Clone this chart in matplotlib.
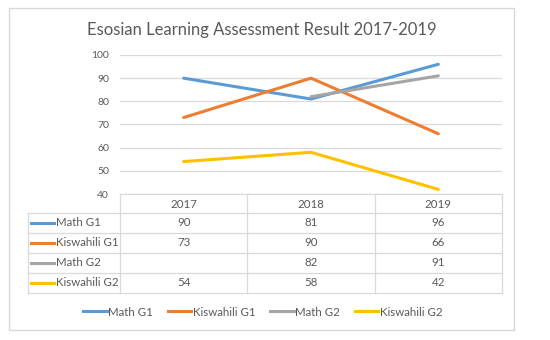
import numpy as np
import matplotlib.pyplot as plt
from matplotlib.lines import Line2D

plt.rcParams['font.family'] = ['Lato', 'DejaVu Sans']

# データ
years = ['2017', '2018', '2019']
series = ['Math G1', 'Kiswahili G1', 'Math G2', 'Kiswahili G2']
math_g1 = [90, 81, 96]
kiswahili_g1 = [73, 90, 66]
math_g2 = [None, 82, 91]
kiswahili_g2 = [54, 58, 42]
values = [math_g1, kiswahili_g1, math_g2, kiswahili_g2]
colors = ['#5B9BD5', '#ED7D31', '#A5A5A5', '#FFC000']
yticks = [40, 50, 60, 70, 80, 90, 100]

W, H = 550, 340
txt = '#595959'
grid = '#D9D9D9'

def fx(x):
    return x / W

def fy(y):
    return 1 - y / H

fig = plt.figure(figsize=(W / 100, H / 100), dpi=100)

# 外枠
fig.add_artist(plt.Rectangle((fx(9), fy(330)), fx(505), (330 - 8) / H,
                             fill=False, ec=grid, lw=1, transform=fig.transFigure))

fig.text(fx(262), fy(30), 'Esosian Learning Assessment Result 2017-2019',
         ha='center', va='center', fontsize=12, color=txt)

# プロット領域
left, right, top, bottom = 120, 502, 55, 194
ax = fig.add_axes([fx(left), fy(bottom), (right - left) / W, (bottom - top) / H])
x = np.arange(len(years))
for vals, c in zip(values, colors):
    y = np.array([np.nan if v is None else v for v in vals], dtype=float)
    ax.plot(x, y, color=c, lw=2.2, solid_capstyle='round')
ax.set_xlim(-0.5, len(years) - 0.5)
ax.set_ylim(40, 100)
ax.set_yticks(yticks)
ax.set_yticklabels([str(t) for t in yticks], fontsize=7.5, color=txt)
ax.tick_params(axis='y', length=0, pad=8)
ax.set_xticks([])
ax.grid(axis='y', color=grid, lw=0.9)
ax.set_axisbelow(True)
for s in ax.spines.values():
    s.set_visible(False)

# データテーブル
tab_left = 28
row_h = 20
head_top = bottom
rows_top = head_top + 19
rows_bottom = rows_top + row_h * len(series)
col_edges = [left + (right - left) * i / len(years) for i in range(len(years) + 1)]

def hline(y, x0, x1):
    fig.add_artist(Line2D([fx(x0), fx(x1)], [fy(y), fy(y)], color=grid, lw=0.9,
                          transform=fig.transFigure))

def vline(xp, y0, y1):
    fig.add_artist(Line2D([fx(xp), fx(xp)], [fy(y0), fy(y1)], color=grid, lw=0.9,
                          transform=fig.transFigure))

hline(head_top, left, right)
for i in range(len(series) + 1):
    hline(rows_top + i * row_h, tab_left, right)
for xp in col_edges:
    vline(xp, head_top, rows_bottom)
vline(tab_left, rows_top, rows_bottom)

fs = 8.3
for j, yr in enumerate(years):
    cx = (col_edges[j] + col_edges[j + 1]) / 2
    fig.text(fx(cx), fy(head_top + 10), yr, ha='center', va='center', fontsize=fs, color=txt)

for i, (name, vals, c) in enumerate(zip(series, values, colors)):
    cy = rows_top + i * row_h + row_h / 2
    fig.add_artist(Line2D([fx(31), fx(54)], [fy(cy), fy(cy)], color=c, lw=2.2,
                          transform=fig.transFigure))
    fig.text(fx(55.5), fy(cy), name, ha='left', va='center', fontsize=fs, color=txt)
    for j, v in enumerate(vals):
        if v is None:
            continue
        cx = (col_edges[j] + col_edges[j + 1]) / 2
        fig.text(fx(cx), fy(cy), str(v), ha='center', va='center', fontsize=fs, color=txt)

# 凡例
handles = [Line2D([], [], color=c, lw=2.2) for c in colors]
leg = fig.legend(handles, series, loc='center', bbox_to_anchor=(fx(263), fy(312)),
                 ncol=4, frameon=False, fontsize=fs, handlelength=2.0,
                 handletextpad=0.15, columnspacing=1.3, borderaxespad=0)
for t in leg.get_texts():
    t.set_color(txt)

fig.savefig('out.png', dpi=100)
